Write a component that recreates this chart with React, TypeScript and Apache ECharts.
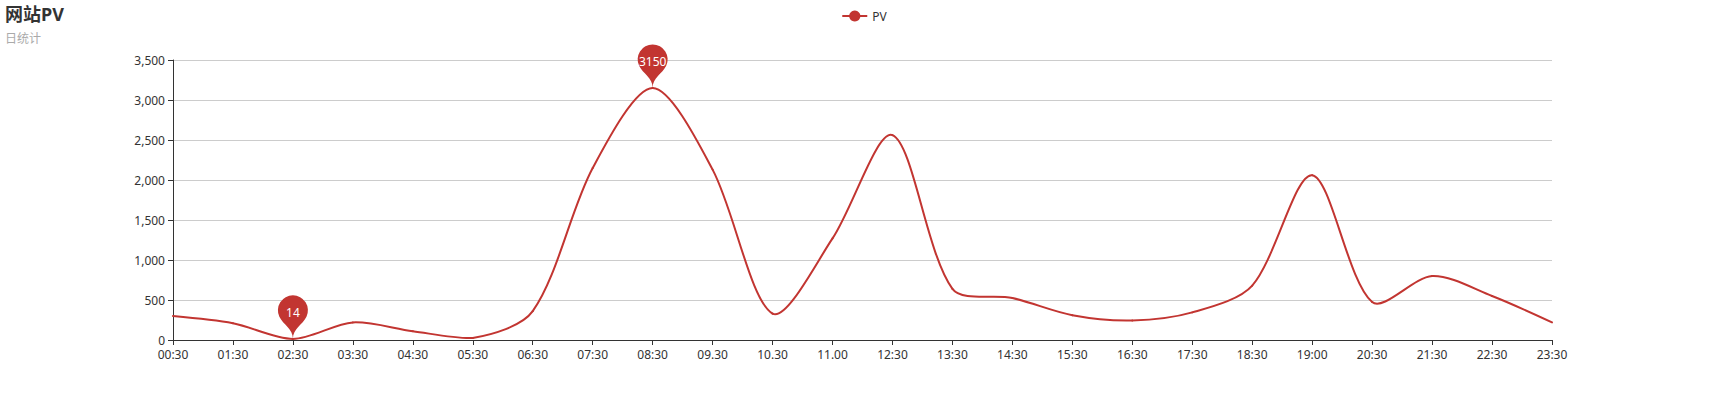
import React, { useEffect, useRef } from "react";
import * as echarts from "echarts";

const titleText = "网站PV";
const subTitleText = "日统计";
const seriesName = "PV";
const categories = [
  "00:30", "01:30", "02:30", "03:30", "04:30", "05:30", "06:30", "07:30",
  "08:30", "09.30", "10.30", "11.00", "12:30", "13:30", "14:30", "15:30",
  "16:30", "17:30", "18:30", "19:00", "20:30", "21:30", "22:30", "23:30",
];
const pvValues = [
  300, 210, 14, 220, 110, 25, 360, 2150, 3150, 2130, 330, 1270,
  2560, 640, 525, 310, 245, 345, 680, 2060, 475, 800, 550, 220,
];
const yTicks = { min: 0, max: 3500, interval: 500 };

const RED = "#c23531";
const FONT = "'Microsoft YaHei', 'Noto Sans', 'Noto Sans CJK SC', sans-serif";
const SMOOTH = 0.3;

// classic smooth bezier segment between point i and i+1 (pixel space, bbox-constrained)
function renderSegment(params: any, api: any) {
  const i = params.dataIndex;
  const n = pvValues.length;
  if (i >= n - 1) return null;
  const pts = pvValues.map((v, k) => api.coord([k, v]) as number[]);
  let minX = Infinity, minY = Infinity, maxX = -Infinity, maxY = -Infinity;
  pts.forEach((p) => {
    minX = Math.min(minX, p[0]); maxX = Math.max(maxX, p[0]);
    minY = Math.min(minY, p[1]); maxY = Math.max(maxY, p[1]);
  });
  const clamp = (c: number[]) => [
    Math.min(Math.max(c[0], minX), maxX),
    Math.min(Math.max(c[1], minY), maxY),
  ];
  const dist = (a: number[], b: number[]) => Math.hypot(a[0] - b[0], a[1] - b[1]);
  const cpOut = (k: number) => {
    if (k === 0) return pts[0];
    const prev = pts[k - 1], p = pts[k], next = pts[k + 1];
    const vx = (next[0] - prev[0]) * SMOOTH, vy = (next[1] - prev[1]) * SMOOTH;
    const d0 = dist(p, prev), d1 = dist(p, next);
    const r = d0 + d1 === 0 ? 0.5 : d1 / (d0 + d1);
    return clamp([p[0] + vx * r, p[1] + vy * r]);
  };
  const cpIn = (k: number) => {
    if (k === n - 1) return pts[n - 1];
    const prev = pts[k - 1], p = pts[k], next = pts[k + 1];
    const vx = (next[0] - prev[0]) * SMOOTH, vy = (next[1] - prev[1]) * SMOOTH;
    const d0 = dist(p, prev), d1 = dist(p, next);
    const r = d0 + d1 === 0 ? 0.5 : d0 / (d0 + d1);
    return clamp([p[0] - vx * r, p[1] - vy * r]);
  };
  const a = pts[i], b = pts[i + 1];
  const c1 = cpOut(i), c2 = cpIn(i + 1);
  return {
    type: "bezierCurve",
    shape: {
      x1: a[0], y1: a[1], x2: b[0], y2: b[1],
      cpx1: c1[0], cpy1: c1[1], cpx2: c2[0], cpy2: c2[1],
    },
    style: { stroke: RED, lineWidth: 2, fill: null, lineCap: "round" },
    silent: true,
  };
}

export default function App() {
  const ref = useRef<HTMLDivElement>(null);
  useEffect(() => {
    document.body.style.margin = "0";
    const chart = echarts.init(ref.current!, undefined, { renderer: "svg" });
    chart.setOption({
      animation: false,
      textStyle: { fontFamily: FONT },
      title: {
        text: titleText,
        subtext: subTitleText,
        left: 0,
        top: 0,
        padding: [5, 5],
        itemGap: 10,
        textStyle: { fontSize: 18, fontWeight: "bold", color: "#333", fontFamily: FONT },
        subtextStyle: { fontSize: 12, color: "#aaa", fontFamily: FONT },
      },
      legend: {
        top: 5,
        left: "center",
        itemWidth: 25,
        itemHeight: 14,
        lineStyle: { color: RED, width: 2, opacity: 1 },
        itemStyle: { color: RED, opacity: 1 },
        textStyle: { color: "#333", fontSize: 12, fontFamily: FONT },
        data: [seriesName],
      },
      grid: { left: 173, right: 176, top: 60, bottom: 60 },
      xAxis: {
        type: "category",
        boundaryGap: false,
        data: categories,
        axisLine: { lineStyle: { color: "#333" } },
        axisTick: { show: true, alignWithLabel: true, lineStyle: { color: "#333" } },
        axisLabel: { color: "#333", fontSize: 12, interval: 0, margin: 8, fontFamily: FONT },
        splitLine: { show: false },
      },
      yAxis: {
        type: "value",
        min: yTicks.min,
        max: yTicks.max,
        interval: yTicks.interval,
        axisLine: { show: true, lineStyle: { color: "#333" } },
        axisTick: { show: true, lineStyle: { color: "#333" } },
        axisLabel: {
          color: "#333",
          fontSize: 12,
          fontFamily: FONT,
          formatter: (v: number) => v.toLocaleString("en-US"),
        },
        splitLine: { show: true, lineStyle: { color: "#ccc" } },
      },
      series: [
        {
          name: seriesName,
          type: "line",
          smooth: true,
          symbol: "circle",
          symbolSize: 8,
          showSymbol: false,
          data: pvValues,
          itemStyle: { color: RED },
          lineStyle: { color: RED, width: 2, opacity: 0 },
          markPoint: {
            symbol: "pin",
            symbolSize: 50,
            itemStyle: { color: RED },
            label: { color: "#fff", fontSize: 12, fontFamily: FONT },
            data: [
              { type: "max", name: "max" },
              { type: "min", name: "min" },
            ],
          },
        },
        {
          name: seriesName + " curve",
          type: "custom",
          renderItem: renderSegment,
          data: pvValues.map((v, k) => [k, v]),
          encode: { x: 0, y: 1 },
          silent: true,
          z: 3,
        },
      ],
    });
    return () => chart.dispose();
  }, []);
  return <div ref={ref} style={{ width: 1728, height: 400 }} />;
}
